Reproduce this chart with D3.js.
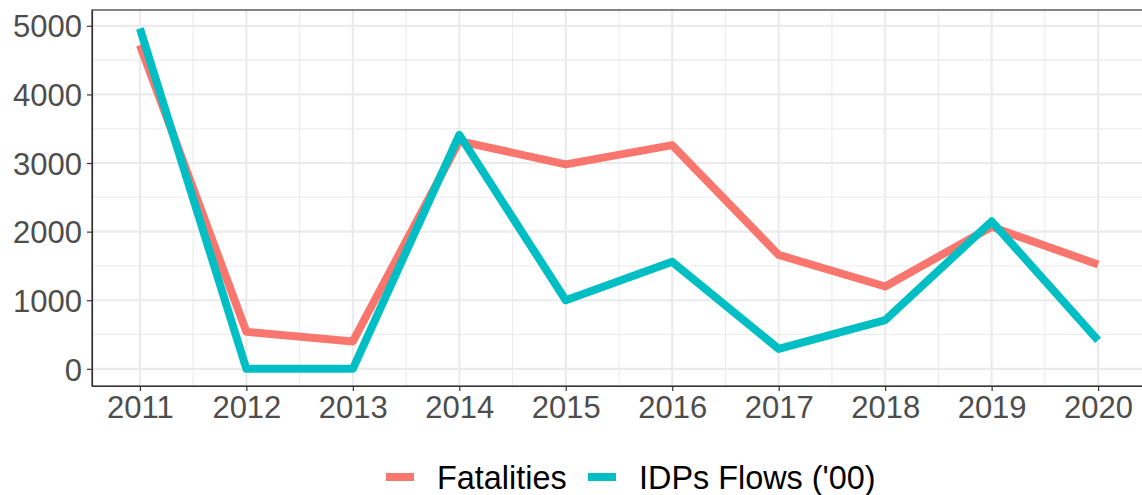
<!DOCTYPE html>
<html>
<head>
<meta charset="utf-8">
<script src="https://cdn.jsdelivr.net/npm/d3@7"></script>
<style>
  body { margin: 0; background: #fff; }
  text { font-family: "Liberation Sans", Arial, sans-serif; }
</style>
</head>
<body>
<svg id="chart"></svg>
<script>
const years = [2011, 2012, 2013, 2014, 2015, 2016, 2017, 2018, 2019, 2020];
const fatalities = [4720, 540, 400, 3320, 2980, 3260, 1660, 1200, 2070, 1520];
const idpFlows = [4960, 0, 0, 3410, 1000, 1560, 290, 710, 2150, 415];
const yTicks = [0, 1000, 2000, 3000, 4000, 5000];
const seriesNames = ["Fatalities", "IDPs Flows ('00)"];
const colors = ["#F8766D", "#00BFC4"];

const W = 1142, H = 495;
const margin = {top: 10, right: -4, bottom: 109, left: 92};

const svg = d3.select("#chart").attr("width", W).attr("height", H);

const x = d3.scaleLinear()
  .domain([2011 - 0.45, 2020 + 0.45])
  .range([margin.left, W - margin.right]);
const y = d3.scaleLinear()
  .domain([-250, 5230])
  .range([H - margin.bottom, margin.top]);

const grid = svg.append("g");
// minor grid
d3.range(2011.5, 2020, 1).forEach(v => {
  grid.append("line").attr("x1", x(v)).attr("x2", x(v))
    .attr("y1", margin.top).attr("y2", H - margin.bottom)
    .attr("stroke", "#EBEBEB").attr("stroke-width", 1.1);
});
d3.range(500, 5001, 1000).forEach(v => {
  grid.append("line").attr("y1", y(v)).attr("y2", y(v))
    .attr("x1", margin.left).attr("x2", W)
    .attr("stroke", "#EBEBEB").attr("stroke-width", 1.1);
});
// major grid
years.forEach(v => {
  grid.append("line").attr("x1", x(v)).attr("x2", x(v))
    .attr("y1", margin.top).attr("y2", H - margin.bottom)
    .attr("stroke", "#EBEBEB").attr("stroke-width", 2.2);
});
yTicks.forEach(v => {
  grid.append("line").attr("y1", y(v)).attr("y2", y(v))
    .attr("x1", margin.left).attr("x2", W)
    .attr("stroke", "#EBEBEB").attr("stroke-width", 2.2);
});

const line = d3.line()
  .x((d, i) => x(years[i]))
  .y(d => y(d));

[fatalities, idpFlows].forEach((s, k) => {
  svg.append("path")
    .datum(s)
    .attr("d", line)
    .attr("fill", "none")
    .attr("stroke", colors[k])
    .attr("stroke-width", 8)
    .attr("stroke-linejoin", "round");
});

// panel border
svg.append("rect")
  .attr("x", margin.left).attr("y", margin.top)
  .attr("width", W - margin.right - margin.left)
  .attr("height", H - margin.bottom - margin.top)
  .attr("fill", "none").attr("stroke", "#333333").attr("stroke-width", 1.2);

const xAxis = svg.append("g")
  .attr("transform", `translate(0,${H - margin.bottom})`)
  .call(d3.axisBottom(x).tickValues(years).tickFormat(d3.format("d"))
    .tickSize(5).tickSizeOuter(0).tickPadding(4));
const yAxis = svg.append("g")
  .attr("transform", `translate(${margin.left},0)`)
  .call(d3.axisLeft(y).tickValues(yTicks).tickFormat(d3.format("d"))
    .tickSize(5).tickSizeOuter(0).tickPadding(5));

[xAxis, yAxis].forEach(g => {
  g.select(".domain").attr("stroke", "#333333").attr("stroke-width", 1.2);
  g.selectAll(".tick line").attr("stroke", "#333333").attr("stroke-width", 1.2);
  g.selectAll(".tick text").attr("fill", "#4D4D4D").attr("font-size", 31);
});
xAxis.selectAll(".tick text").attr("dy", "0.74em");
yAxis.selectAll(".tick text").attr("x", -10).attr("dy", "0.36em");

// legend
const legendX = [386, 588];
const legend = svg.append("g");
seriesNames.forEach((name, i) => {
  legend.append("line")
    .attr("x1", legendX[i]).attr("x2", legendX[i] + 28)
    .attr("y1", 477).attr("y2", 477)
    .attr("stroke", colors[i]).attr("stroke-width", 8);
  legend.append("text")
    .attr("x", legendX[i] + 51).attr("y", 488.5)
    .attr("font-size", 32.4)
    .attr("fill", "#000")
    .text(name);
});
</script>
</body>
</html>
